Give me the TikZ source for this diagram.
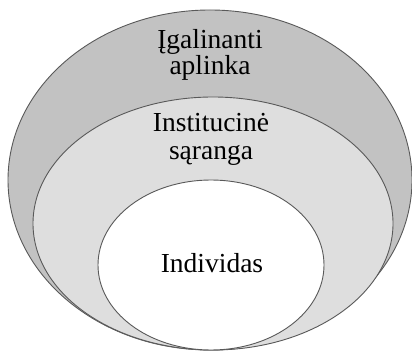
\documentclass[tikz,border=0pt]{standalone}
\usepackage{fontspec}
\setmainfont{Liberation Serif}
\begin{document}
\begin{tikzpicture}[x=1pt,y=1pt,
  ring/.style={draw=black!65, line width=0.9pt},
  lbl/.style={anchor=base, inner sep=0pt, font=\fontsize{27.5}{29}\selectfont}]
\useasboundingbox (0,0) rectangle (412,351);
\clip (0,0) rectangle (412,351);
\fill[white] (0,0) rectangle (412,351);
% outer
\filldraw[ring, fill=black!24] (210,171) ellipse [x radius=202, y radius=170];
% middle
\filldraw[ring, fill=black!13] (213,127.5) ellipse [x radius=180, y radius=126.5];
% inner
\filldraw[ring, fill=white] (211,86) ellipse [x radius=113, y radius=85];
\node[lbl] (t1) at (210,302) {Įgalinanti};
\node[lbl] (t2) at (210,276) {aplinka};
\node[lbl] (t3) at (211,219) {Institucinė};
\node[lbl] (t4) at (211,191) {sąranga};
\node[lbl] (t5) at (212,79) {Individas};
\end{tikzpicture}
\end{document}
